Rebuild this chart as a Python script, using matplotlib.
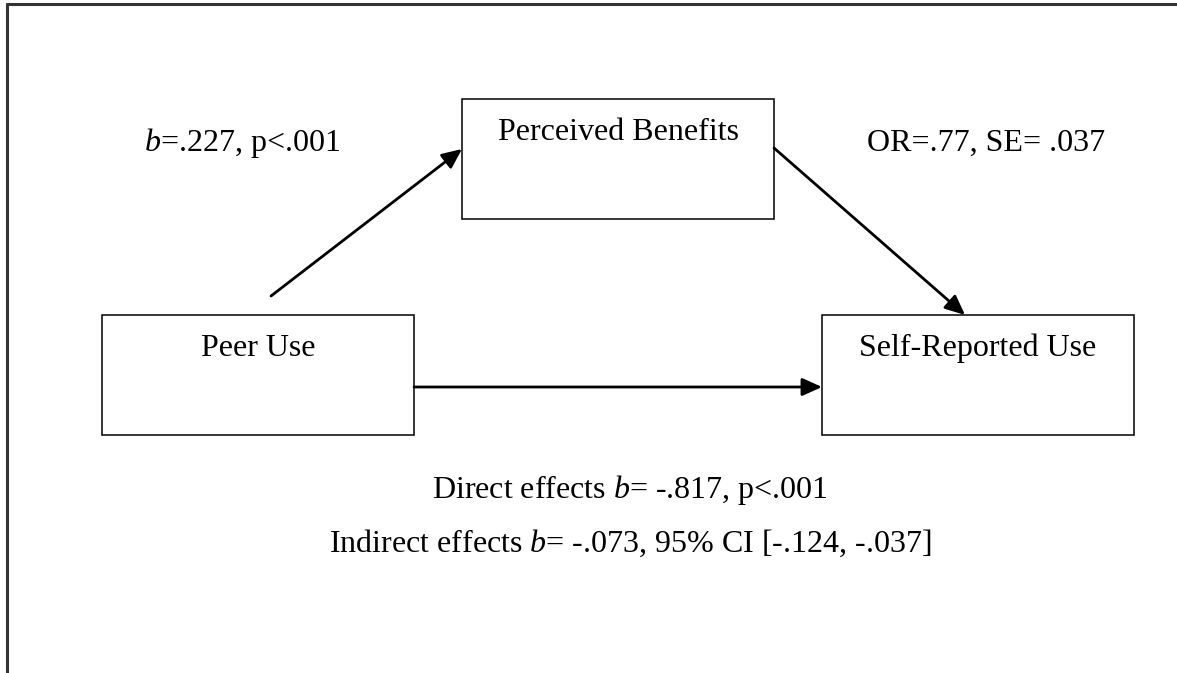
import matplotlib
matplotlib.use("Agg")
import matplotlib.pyplot as plt
from matplotlib.patches import Rectangle

plt.rcParams["font.family"] = ["Liberation Serif", "DejaVu Serif"]
plt.rcParams["mathtext.fontset"] = "custom"
plt.rcParams["mathtext.rm"] = "Liberation Serif"
plt.rcParams["mathtext.it"] = "Liberation Serif:italic"

# Labels of the mediation model
box_labels = ["Perceived Benefits", "Peer Use", "Self-Reported Use"]
path_labels = ["$b$=.227, p<.001", "OR=.77, SE= .037"]
effect_labels = ["Direct effects $b$= -.817, p<.001",
                 "Indirect effects $b$= -.073, 95% CI [-.124, -.037]"]

# Layout (pixel coordinates, y down)
box_xy = [(462, 99), (102, 315), (822, 315)]
box_w, box_h = 312, 120
box_text_y = [140, 356, 356]
path_text_xy = [(144, 151, "left"), (867, 151, "left")]
effect_text_xy = [(630, 498), (630, 552)]
arrows = [((271, 296), (462, 149)),
          ((774, 148), (965, 315)),
          ((414, 387), (822, 387))]

FS = 23

fig = plt.figure(figsize=(11.77, 6.73), dpi=100)
ax = fig.add_axes([0, 0, 1, 1])
ax.set_xlim(0, 1177)
ax.set_ylim(673, 0)
ax.axis("off")

# outer frame (only top and left edges visible)
ax.plot([6, 1177], [3.5, 3.5], color="#333333", lw=2.2, solid_capstyle="butt")
ax.plot([6.5, 6.5], [3, 673], color="#333333", lw=2.2, solid_capstyle="butt")

for (x, y), label, ty in zip(box_xy, box_labels, box_text_y):
    ax.add_patch(Rectangle((x, y), box_w, box_h, fill=False, ec="black", lw=1.1))
    ax.text(x + box_w / 2, ty, label, ha="center", va="baseline", fontsize=FS)

for (x, y, ha), label in zip(path_text_xy, path_labels):
    ax.text(x, y, label, ha=ha, va="baseline", fontsize=FS)

for (x, y), label in zip(effect_text_xy, effect_labels):
    ax.text(x, y, label, ha="center", va="baseline", fontsize=FS)

for start, end in arrows:
    ax.annotate("", xy=end, xytext=start,
                arrowprops=dict(arrowstyle="-|>,head_length=0.6,head_width=0.27",
                                mutation_scale=20, color="black", lw=2,
                                shrinkA=0, shrinkB=0))

fig.savefig("out.png", dpi=100)
